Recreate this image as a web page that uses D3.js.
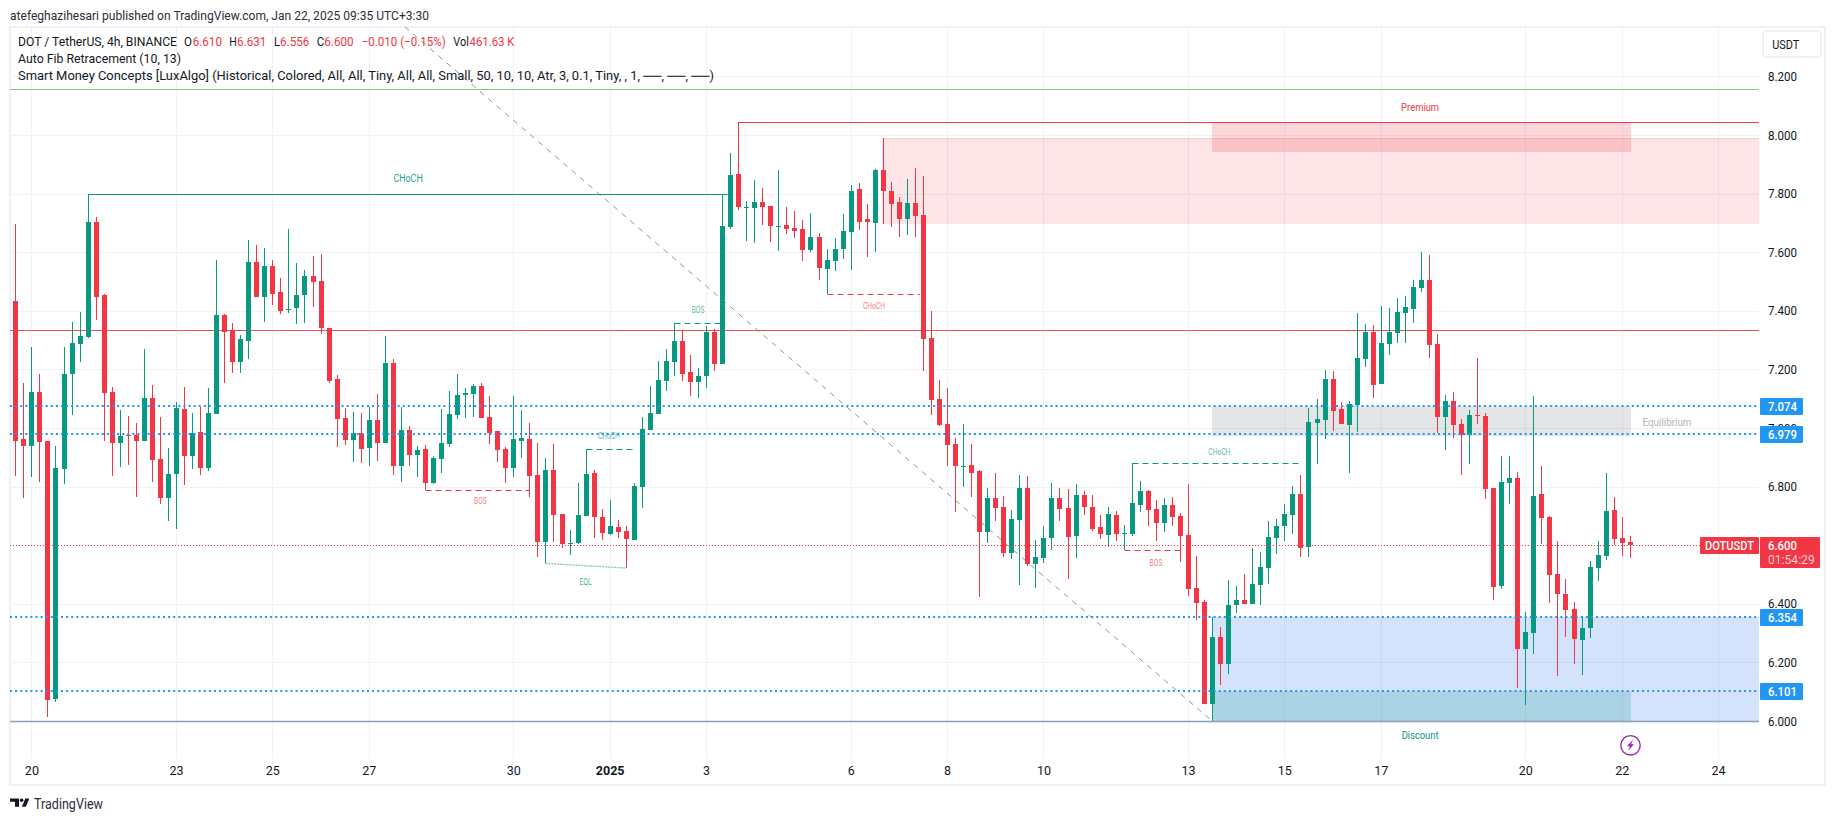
<!DOCTYPE html>
<html><head><meta charset="utf-8">
<script src="https://d3js.org/d3.v7.min.js"></script>
<style>html,body{margin:0;padding:0;background:#fff}svg{display:block}text{font-family:Roboto,sans-serif}</style>
</head><body><svg id="c" width="1835" height="821"></svg>
<script>
const opens=[7.433,6.961,6.939,7.123,6.955,6.076,6.861,7.184,7.288,7.312,
7.703,7.454,7.123,6.950,6.976,6.976,6.956,7.102,6.894,6.762,
6.843,7.065,6.906,6.987,6.863,7.049,7.386,7.333,7.226,7.298,
7.567,7.448,7.553,7.464,7.403,7.408,7.455,7.518,7.501,7.341,
7.167,7.034,6.960,6.983,6.933,7.027,6.950,7.222,6.871,6.993,
6.909,6.928,6.813,6.895,6.946,7.045,7.114,7.117,7.143,7.037,
6.990,6.928,6.864,6.957,6.962,6.839,6.612,6.856,6.706,6.605,
6.607,6.701,6.846,6.696,6.638,6.662,6.648,6.619,6.800,6.994,
7.048,7.161,7.226,7.296,7.191,7.158,7.178,7.327,7.219,7.687,
7.866,7.752,7.752,7.771,7.757,7.687,7.692,7.682,7.679,7.608,
7.651,7.543,7.571,7.612,7.670,7.815,7.713,7.700,7.880,7.808,
7.771,7.714,7.767,7.726,7.307,7.098,7.013,6.945,6.870,6.873,
6.853,6.646,6.761,6.730,6.574,6.687,6.795,6.537,6.557,6.625,
6.761,6.727,6.632,6.771,6.730,6.662,6.636,6.703,6.639,6.639,
6.738,6.785,6.723,6.677,6.737,6.699,6.634,6.454,6.406,6.059,
6.286,6.195,6.396,6.413,6.399,6.464,6.522,6.624,6.666,6.703,
6.775,6.595,7.017,7.027,7.167,7.065,7.010,7.079,7.236,7.328,
7.150,7.287,7.324,7.393,7.406,7.478,7.505,7.287,7.038,7.092,
7.014,6.976,7.045,7.041,6.795,6.461,6.813,6.830,6.246,6.300,
6.775,6.696,6.502,6.434,6.382,6.277,6.318,6.522,6.563,6.720,
6.625,6.610];
const highs=[7.695,7.154,7.276,7.183,6.955,6.938,7.276,7.361,7.396,7.800,
7.720,7.457,7.140,7.061,7.041,7.016,7.269,7.147,7.037,6.931,
7.088,7.140,7.051,7.072,7.136,7.573,7.389,7.358,7.316,7.642,
7.625,7.614,7.573,7.511,7.679,7.563,7.539,7.586,7.593,7.341,
7.181,7.068,7.054,7.050,7.071,7.116,7.314,7.235,7.073,7.007,
6.938,6.942,6.904,7.065,7.126,7.184,7.136,7.150,7.153,7.109,
6.990,6.936,7.109,7.061,7.016,6.949,6.897,6.945,6.706,6.652,
6.812,6.927,6.856,6.723,6.754,6.686,6.665,6.812,7.037,7.143,
7.228,7.269,7.360,7.332,7.249,7.204,7.348,7.337,7.795,7.938,
8.043,7.774,7.846,7.819,7.757,7.880,7.754,7.740,7.709,7.733,
7.665,7.610,7.648,7.730,7.829,7.836,7.764,7.883,7.989,7.839,
7.788,7.849,7.887,7.860,7.399,7.163,7.136,6.965,7.013,6.945,
6.856,6.795,6.846,6.768,6.720,6.839,6.836,6.617,6.665,6.812,
6.795,6.791,6.809,6.785,6.771,6.703,6.730,6.716,6.669,6.879,
6.819,6.788,6.754,6.761,6.764,6.710,6.809,6.563,6.413,6.355,
6.320,6.481,6.460,6.501,6.590,6.576,6.682,6.689,6.741,6.802,
6.840,7.068,7.099,7.198,7.195,7.089,7.092,7.393,7.355,7.352,
7.417,7.410,7.444,7.451,7.505,7.601,7.591,7.321,7.113,7.123,
7.031,7.062,7.239,7.051,6.795,6.905,6.905,6.850,6.372,7.109,
6.871,6.700,6.615,6.485,6.406,6.359,6.546,6.615,6.847,6.765,
6.696,6.631];
const lows=[6.837,6.762,6.833,6.817,6.012,6.066,6.810,7.045,7.226,7.308,
7.370,6.956,6.837,6.868,6.875,6.764,6.956,6.817,6.742,6.683,
6.656,6.805,6.861,6.840,6.854,7.049,7.154,7.188,7.188,7.237,
7.448,7.363,7.420,7.390,7.394,7.356,7.359,7.413,7.322,7.155,
6.936,6.942,6.885,6.881,6.871,6.888,6.950,6.841,6.817,6.871,
6.834,6.790,6.810,6.847,6.936,7.032,7.035,7.038,7.035,6.946,
6.885,6.813,6.834,6.899,6.765,6.561,6.538,6.612,6.591,6.567,
6.605,6.701,6.626,6.619,6.636,6.626,6.522,6.619,6.728,6.994,
7.048,7.127,7.178,7.161,7.110,7.103,7.137,7.195,7.219,7.680,
7.745,7.639,7.632,7.692,7.635,7.605,7.662,7.649,7.571,7.601,
7.506,7.459,7.535,7.577,7.540,7.676,7.584,7.601,7.696,7.687,
7.653,7.659,7.653,7.195,7.045,7.006,6.871,6.714,6.799,6.764,
6.424,6.607,6.682,6.559,6.553,6.464,6.529,6.455,6.539,6.583,
6.682,6.484,6.556,6.703,6.648,6.621,6.594,6.614,6.582,6.632,
6.714,6.665,6.614,6.645,6.665,6.542,6.427,6.344,6.059,6.000,
6.123,6.160,6.368,6.399,6.399,6.396,6.467,6.570,6.615,6.638,
6.560,6.560,6.877,6.963,6.990,7.014,6.847,6.987,7.208,7.103,
7.150,7.249,7.290,7.290,7.359,7.464,7.239,6.983,6.925,6.966,
6.840,6.877,7.014,6.758,6.413,6.451,6.741,6.113,6.055,6.229,
6.604,6.403,6.154,6.287,6.195,6.157,6.283,6.478,6.550,6.601,
6.563,6.556];
const closes=[6.956,6.939,7.123,6.953,6.073,6.863,7.184,7.290,7.314,7.703,
7.448,7.120,6.950,6.973,6.974,6.956,7.102,6.892,6.762,6.842,
7.068,6.906,6.983,6.863,7.051,7.386,7.326,7.226,7.304,7.567,
7.448,7.553,7.458,7.401,7.406,7.454,7.518,7.498,7.342,7.161,
7.032,6.960,6.983,6.929,7.027,6.950,7.222,6.871,6.993,6.909,
6.925,6.813,6.897,6.949,7.048,7.112,7.119,7.143,7.035,6.984,
6.926,6.864,6.962,6.966,6.837,6.612,6.856,6.704,6.605,6.607,
6.703,6.843,6.697,6.643,6.665,6.646,6.622,6.802,6.996,7.051,
7.163,7.228,7.296,7.185,7.158,7.177,7.327,7.219,7.689,7.863,
7.755,7.754,7.771,7.755,7.689,7.689,7.680,7.673,7.608,7.651,
7.547,7.573,7.610,7.672,7.808,7.704,7.704,7.880,7.810,7.765,
7.714,7.767,7.724,7.304,7.096,7.011,6.943,6.871,6.872,6.847,
6.646,6.761,6.728,6.574,6.689,6.795,6.537,6.559,6.624,6.761,
6.724,6.629,6.771,6.731,6.656,6.638,6.706,6.639,6.641,6.744,
6.785,6.721,6.677,6.737,6.696,6.632,6.451,6.404,6.059,6.286,
6.195,6.396,6.413,6.399,6.467,6.525,6.628,6.665,6.707,6.775,
6.592,7.021,7.031,7.167,7.058,7.014,7.082,7.239,7.328,7.147,
7.290,7.328,7.396,7.413,7.481,7.505,7.283,7.038,7.092,7.010,
6.976,7.045,7.042,6.792,6.457,6.816,6.830,6.246,6.304,6.768,
6.693,6.498,6.434,6.379,6.280,6.318,6.526,6.567,6.717,6.621,
6.608,6.600];

const priceTicks=[8.2,8.0,7.8,7.6,7.4,7.2,7.0,6.8,6.6,6.4,6.2,6.0];
const shownPriceTicks=[8.2,8.0,7.8,7.6,7.4,7.2,7.0,6.8,6.4,6.2,6.0];
const dayTickIndex=[2,20,32,44,62,74,86,104,116,128,146,158,170,188,200,212];
const dayTickLabels=["20","23","25","27","30","2025","3","6","8","10","13","15","17","20","22","24"];
const blueLevels=[7.074,6.979,6.354,6.101];
const lastPrice=6.600;
const fibGreen=8.156, fibRed=7.333, fibBase=6.0;
const zones=[
 [107.9,null,7.989,7.697,"rgba(242,54,69,.13)","rgba(242,54,69,.16)"],
 [149,201.2,8.043,7.942,"rgba(242,54,69,.2)",null],
 [149,201.2,7.074,6.972,"rgba(120,123,134,.2)",null],
 [149,null,6.354,6.0,"rgba(41,110,240,.2)",null],
 [149,201.2,6.101,6.0,"rgba(8,153,129,.2)",null]];
const fibDiagonal=[[48.5,8.369],[149,6.0]];
const structures=[
 [9,88.7,7.80,"g",0,"CHoCH",48.9,7.85,10,29.3],
 [51,64,6.79,"r",1,"BOS",57.9,6.752,8.5,12.7],
 [71,77.2,6.927,"g",1,"CHoCH",73.9,6.972,8.5,22],
 [82,88,7.36,"g",1,"BOS",85,7.402,8.5,12.7],
 [101,112.6,7.459,"r",1,"CHoCH",106.9,7.417,8.5,22],
 [139,160,6.879,"g",1,"CHoCH",149.9,6.919,8.5,22],
 [138,145,6.582,"r",1,"BOS",142,6.54,8.5,12.7]];
const eqlLine=[[66,6.538],[76,6.522]];
const zoneLabels=[["Premium",174.9,8.093,"#f23645",38],["Discount",174.9,5.95,"#089981",36.7]];

const GREEN="#089981",RED="#f23645",BLUE="#2196f3",INK="#131722";
const L=10,R=1759,T=27,B=758;
const x=d3.scaleLinear().domain([0,212]).range([15.33,1718.1]);
const y=d3.scaleLinear().domain([6,8.2]).range([721,76.4]);
const px=v=>Math.round(x(v)), py=v=>Math.round(y(v));
const svg=d3.select("#c");
const col=k=>k==="g"?GREEN:RED;
const fit=(s,w)=>s.attr("textLength",w).attr("lengthAdjust","spacingAndGlyphs");

fit(svg.append("text").attr("x",10).attr("y",19.5).attr("font-size",13).attr("fill","#2a2e39")
 .text("atefeghazihesari published on TradingView.com, Jan 22, 2025 09:35 UTC+3:30"),419);

svg.append("rect").attr("x",10).attr("y",27).attr("width",1815).attr("height",758)
 .attr("fill","#fff").attr("stroke","#f0f1f5").attr("stroke-width",2);

svg.append("defs").append("clipPath").attr("id","plot").append("rect")
 .attr("x",L).attr("y",T).attr("width",R-L).attr("height",B-T);
const plot=svg.append("g").attr("clip-path","url(#plot)");

const gx=plot.append("g").attr("transform",`translate(0,${T})`)
 .call(d3.axisBottom(x).tickValues(dayTickIndex).tickSize(B-T).tickFormat(""));
const gy=plot.append("g").attr("transform",`translate(${L},0)`)
 .call(d3.axisRight(y).tickValues(priceTicks).tickSize(R-L).tickFormat(""));
[gx,gy].forEach(g=>{g.select(".domain").remove();g.selectAll("line").attr("stroke","#f1f2f5").attr("shape-rendering","crispEdges");});

plot.selectAll("rect.zone").data(zones).join("rect").attr("class","zone")
 .attr("x",d=>px(d[0])).attr("width",d=>(d[1]==null?R:px(d[1]))-px(d[0]))
 .attr("y",d=>py(d[2])).attr("height",d=>py(d[3])-py(d[2])).attr("fill",d=>d[4]);
plot.selectAll("line.zt").data(zones.filter(d=>d[5])).join("line").attr("class","zt")
 .attr("x1",d=>px(d[0])).attr("x2",R).attr("y1",d=>py(d[2])+.5).attr("y2",d=>py(d[2])+.5).attr("stroke",d=>d[5]);

const hline=(p,c,w,dash)=>plot.append("line").attr("x1",L).attr("x2",R)
 .attr("y1",w===2?py(p):py(p)+.5).attr("y2",w===2?py(p):py(p)+.5).attr("stroke",c).attr("stroke-width",w).attr("stroke-dasharray",dash||null);
hline(fibGreen,"#81c784",1);
hline(fibRed,"#f2514a",1);
hline(fibBase,"#8f9cbd",1.5);

plot.append("path").attr("d",d3.line().x(d=>x(d[0])).y(d=>y(d[1]))(fibDiagonal))
 .attr("fill","none").attr("stroke","#787b86").attr("stroke-opacity",.8).attr("stroke-width",1).attr("stroke-dasharray","5.5 5.5");

const premiumIdx=90;
plot.append("line").attr("x1",px(premiumIdx)+.5).attr("x2",R).attr("y1",py(highs[premiumIdx])+.5).attr("y2",py(highs[premiumIdx])+.5).attr("stroke",RED);

const candles=d3.range(opens.length).map(i=>({i,o:opens[i],h:highs[i],l:lows[i],c:closes[i]}));
const cg=plot.append("g").attr("shape-rendering","crispEdges");
cg.selectAll("line").data(candles).join("line")
 .attr("x1",d=>px(d.i)+.5).attr("x2",d=>px(d.i)+.5).attr("y1",d=>py(d.h)).attr("y2",d=>py(d.l))
 .attr("stroke",d=>d.c>=d.o?GREEN:RED);
cg.selectAll("rect").data(candles).join("rect")
 .attr("x",d=>px(d.i)-2).attr("width",5)
 .attr("y",d=>py(Math.max(d.o,d.c))).attr("height",d=>Math.max(1,py(Math.min(d.o,d.c))-py(Math.max(d.o,d.c))))
 .attr("fill",d=>d.c>=d.o?GREEN:RED);

blueLevels.forEach(p=>hline(p,BLUE,2,"2 3.1"));
hline(lastPrice,RED,1,"1 2");

const sg=plot.append("g");
structures.forEach(s=>{
 sg.append("line").attr("x1",px(s[0])+.5).attr("x2",x(s[1])).attr("y1",py(s[2])+.5).attr("y2",py(s[2])+.5)
  .attr("stroke",col(s[3])).attr("stroke-dasharray",s[4]?"6 4":null);
 fit(sg.append("text").attr("x",x(s[6])).attr("y",y(s[7])).attr("dy","0.35em").attr("text-anchor","middle")
  .attr("font-size",s[8]).attr("fill",col(s[3])).attr("fill-opacity",s[8]==10?.95:.7).text(s[5]),s[9]);
});
[[51,6.79,lows[51]],[71,6.927,closes[71]],[82,7.36,closes[82]],[101,7.459,lows[101]],[139,6.879,closes[139]],[138,6.582,opens[138]]].forEach(s=>{
 const k=closes[s[0]]>=opens[s[0]]?GREEN:RED;
 sg.append("line").attr("x1",px(s[0])+.5).attr("x2",px(s[0])+.5).attr("y1",py(s[1])).attr("y2",py(s[2])).attr("stroke",k);
});
sg.append("path").attr("d",d3.line().x(d=>x(d[0])).y(d=>y(d[1]))(eqlLine)).attr("fill","none")
 .attr("stroke",GREEN).attr("stroke-opacity",.55).attr("stroke-width",1.3).attr("stroke-dasharray","2 1");
fit(sg.append("text").attr("x",x(71)).attr("y",y(6.476)).attr("dy","0.35em").attr("text-anchor","middle")
 .attr("font-size",8.5).attr("fill",GREEN).attr("fill-opacity",.8).text("EQL"),12.3);
sg.selectAll("text.z").data(zoneLabels).join("text").attr("class","z")
 .attr("x",d=>x(d[1])).attr("y",d=>y(d[2])).attr("dy","0.35em").attr("text-anchor","middle")
 .attr("font-size",10).attr("fill",d=>d[3]).attr("textLength",d=>d[4]).attr("lengthAdjust","spacingAndGlyphs").text(d=>d[0]);
fit(sg.append("text").attr("x",1667).attr("y",y(7.02)).attr("dy","0.35em").attr("text-anchor","middle")
 .attr("font-size",10).attr("fill","#b2b5be").text("Equilibrium"),49);

const leg=svg.append("g").attr("font-size",13).attr("fill",INK);
const seg=(t,xx,yy,c,w)=>fit(leg.append("text").attr("x",xx).attr("y",yy).attr("fill",c||INK).text(t),w);
seg("DOT / TetherUS, 4h, BINANCE",18,46,INK,159);
[["O",184,INK,8],["6.610",192.7,RED,29.3],["H",229.3,INK,7.5],["6.631",237,RED,29.3],["L",274,INK,6],["6.556",280,RED,29.3],["C",316.7,INK,7.5],["6.600",324.3,RED,29.3],["−0.010 (−0.15%)",361.7,RED,84],["Vol",453.3,INK,15.5],["461.63 K",469.5,RED,45]]
 .forEach(a=>seg(a[0],a[1],46,a[2],a[3]));
seg("Auto Fib Retracement (10, 13)",18,63,INK,163);
seg("Smart Money Concepts [LuxAlgo] (Historical, Colored, All, All, Tiny, All, All, Small, 50, 10, 10, Atr, 3, 0.1, Tiny, , 1, ──, ──, ──)",18,80,INK,696);

const ay=svg.append("g").attr("transform","translate(1760,0)")
 .call(d3.axisRight(y).tickValues(shownPriceTicks).tickSize(0).tickPadding(8).tickFormat(d3.format(".3f")));
ay.select(".domain").remove();
ay.selectAll("text").attr("font-size",13).attr("font-family","Roboto,sans-serif").attr("fill",INK)
 .attr("textLength",29).attr("lengthAdjust","spacingAndGlyphs");

const ax=svg.append("g").attr("transform","translate(0,758)")
 .call(d3.axisBottom(x).tickValues(dayTickIndex).tickSize(0).tickPadding(8).tickFormat((d,i)=>dayTickLabels[i]));
ax.select(".domain").remove();
ax.selectAll("text").attr("font-size",12.5).attr("font-family","Roboto,sans-serif").attr("fill",INK)
 .attr("font-weight",(d,i)=>dayTickLabels[i]==="2025"?700:400);

blueLevels.forEach(p=>{
 const c=Math.round(y(p));
 svg.append("rect").attr("x",1760).attr("y",c-8).attr("width",43).attr("height",17).attr("rx",1).attr("fill",BLUE);
 fit(svg.append("text").attr("x",1768).attr("y",c).attr("dy","0.36em").attr("font-size",13).attr("font-weight",500).attr("fill","#fff").text(d3.format(".3f")(p)),29);
});
const ly=y(lastPrice);
svg.append("rect").attr("x",1760).attr("y",537).attr("width",60).attr("height",31).attr("rx",1).attr("fill",RED);
fit(svg.append("text").attr("x",1768).attr("y",ly).attr("dy","0.36em").attr("font-size",13).attr("font-weight",500).attr("fill","#fff").text(d3.format(".3f")(lastPrice)),29);
fit(svg.append("text").attr("x",1768).attr("y",ly+14.5).attr("dy","0.36em").attr("font-size",13).attr("fill","#fff").attr("fill-opacity",.75).text("01:54:29"),46.7);
svg.append("rect").attr("x",1700).attr("y",537).attr("width",59).attr("height",17).attr("rx",1).attr("fill",RED);
fit(svg.append("text").attr("x",1705).attr("y",ly).attr("dy","0.36em").attr("font-size",13).attr("font-weight",500).attr("fill","#fff").text("DOTUSDT"),49);

svg.append("rect").attr("x",1763).attr("y",31).attr("width",58).attr("height",26).attr("rx",4).attr("fill","#fff").attr("stroke","#e8eaf0").attr("stroke-width",1.5);
fit(svg.append("text").attr("x",1772.3).attr("y",44).attr("dy","0.36em").attr("font-size",13).attr("fill",INK).text("USDT"),27);

const ic=svg.append("g").attr("transform","translate(1630.5,745.3)");
ic.append("circle").attr("r",9.7).attr("fill","#fff").attr("stroke","#9c27b0").attr("stroke-width",1.4);
ic.append("path").attr("d","M2.6,-5.6 L-3.6,1 L-0.6,1 L-2.6,5.6 L3.6,-1 L0.6,-1 Z").attr("fill","#9c27b0");

const lg=svg.append("g").attr("fill","#131722");
lg.append("path").attr("d","M10,798.5H19V806.8H15V801.8H10Z");
lg.append("circle").attr("cx",21.6).attr("cy",800.3).attr("r",1.8);
lg.append("path").attr("d","M25.3,798.5H29.3L25.8,806.8H21.9Z");
fit(svg.append("text").attr("x",34).attr("y",804).attr("dy","0.36em").attr("font-size",14).attr("fill","#2a2e39").text("TradingView"),69);
</script></body></html>
